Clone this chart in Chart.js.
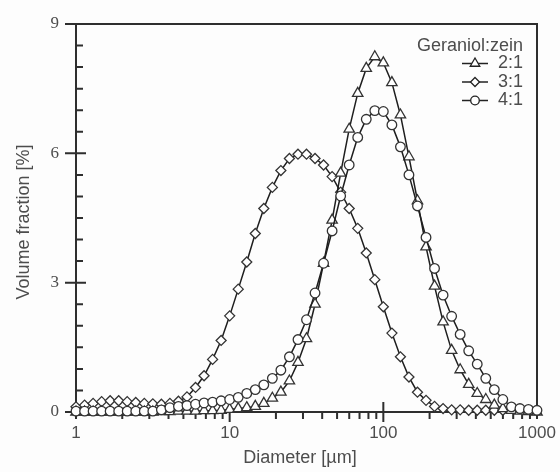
<!DOCTYPE html>
<html lang="en">
<head>
    <meta charset="UTF-8">
    <title>Particle size distribution</title>
    <style>
        body {
            margin: 0;
            background: #fdfdfd;
        }
        #wrap {
            width: 560px;
            height: 472px;
        }
    </style>
</head>
<body>
    <div id="wrap"><canvas id="psd" width="560" height="472"></canvas></div>

    <script src="https://cdn.jsdelivr.net/npm/chart.js@4"></script>
    <script>
        // size classes (µm)
        const diameters = [1.000, 1.137, 1.292, 1.468, 1.668, 1.896, 2.154, 2.448, 2.783, 3.162,
            3.594, 4.084, 4.642, 5.275, 5.995, 6.813, 7.743, 8.799, 10.00, 11.37,
            12.92, 14.68, 16.68, 18.96, 21.54, 24.48, 27.83, 31.62, 35.94, 40.84,
            46.42, 52.75, 59.95, 68.13, 77.43, 87.99, 100.0, 113.7, 129.2, 146.8,
            166.8, 189.6, 215.4, 244.8, 278.3, 316.2, 359.4, 408.4, 464.2, 527.5,
            599.5, 681.3, 774.3, 879.9, 1000];

        // volume fraction [%] per geraniol:zein ratio
        const ratio21 = [0, 0, 0, 0, 0, 0, 0, 0, 0, 0,
            0.01, 0.01, 0.02, 0.02, 0.02, 0.03, 0.03, 0.04, 0.06, 0.08,
            0.10, 0.13, 0.20, 0.32, 0.46, 0.72, 1.15, 1.70, 2.50, 3.45,
            4.45, 5.54, 6.56, 7.39, 7.97, 8.24, 8.10, 7.64, 6.89, 5.92,
            4.90, 3.83, 2.92, 2.09, 1.43, 0.98, 0.64, 0.43, 0.29, 0.16,
            0.08, 0.04, 0.02, 0.01, 0];
        const ratio31 = [0.12, 0.16, 0.20, 0.24, 0.26, 0.26, 0.24, 0.22, 0.20, 0.19,
            0.18, 0.20, 0.25, 0.35, 0.57, 0.84, 1.22, 1.66, 2.23, 2.85,
            3.48, 4.14, 4.72, 5.21, 5.60, 5.88, 5.98, 5.98, 5.88, 5.73,
            5.46, 5.10, 4.72, 4.26, 3.69, 3.07, 2.44, 1.83, 1.28, 0.81,
            0.46, 0.27, 0.13, 0.08, 0.05, 0.05, 0.04, 0.04, 0.04, 0.04,
            0.04, null, null, null, null];
        const ratio41 = [0.02, 0.02, 0.02, 0.02, 0.02, 0.02, 0.02, 0.02, 0.02, 0.02,
            0.05, 0.10, 0.13, 0.15, 0.18, 0.21, 0.23, 0.26, 0.29, 0.34,
            0.43, 0.52, 0.63, 0.78, 0.97, 1.28, 1.68, 2.14, 2.76, 3.45,
            4.20, 5.01, 5.73, 6.37, 6.79, 6.99, 6.97, 6.66, 6.15, 5.50,
            4.78, 4.05, 3.33, 2.71, 2.22, 1.80, 1.42, 1.11, 0.78, 0.52,
            0.29, 0.12, 0.08, 0.06, 0.04];

        const seriesLabels = ['2:1', '3:1', '4:1'];
        const legendTitle = 'Geraniol:zein';
        const xTicks = [1, 10, 100, 1000];
        const yTicks = [0, 3, 6, 9];
        const xTitle = 'Diameter [µm]';
        const yTitle = 'Volume fraction [%]';

        const ink = '#2e2e2e';
        const textGray = '#4d4d4d';
        const sans = '"Liberation Sans", Arial, sans-serif';
        const serif = '"Liberation Serif", "Times New Roman", serif';

        const series = [
            { label: seriesLabels[0], values: ratio21, style: 'triangle', radius: 6, order: 2 },
            { label: seriesLabels[1], values: ratio31, style: 'rectRot', radius: 5, order: 3 },
            { label: seriesLabels[2], values: ratio41, style: 'circle', radius: 4.8, order: 1 }
        ];

        function toPoints(values) {
            return values.map((v, i) => ({ x: diameters[i], y: v }));
        }

        // small marker for the hand drawn legend
        function marker(ctx, style, x, y, r) {
            ctx.beginPath();
            if (style === 'circle') {
                ctx.arc(x, y, r, 0, Math.PI * 2);
            } else if (style === 'rectRot') {
                ctx.moveTo(x, y - r);
                ctx.lineTo(x + r, y);
                ctx.lineTo(x, y + r);
                ctx.lineTo(x - r, y);
                ctx.closePath();
            } else {
                ctx.moveTo(x, y - r);
                ctx.lineTo(x + r * 0.866, y + r / 2);
                ctx.lineTo(x - r * 0.866, y + r / 2);
                ctx.closePath();
            }
            ctx.fillStyle = '#ffffff';
            ctx.fill();
            ctx.stroke();
        }

        const axisDecor = {
            id: 'axisDecor',
            beforeDatasetsDraw(chart) {
                const { ctx, chartArea: a, scales: { x, y } } = chart;
                ctx.save();
                ctx.strokeStyle = ink;
                ctx.lineWidth = 2;
                ctx.strokeRect(a.left, a.top, a.right - a.left, a.bottom - a.top);

                // y: majors cross the axis, minors point inward
                ctx.beginPath();
                for (let v = 0; v <= 9; v += 0.5) {
                    const py = y.getPixelForValue(v);
                    const major = yTicks.includes(v);
                    ctx.moveTo(major ? a.left - 11 : a.left, py);
                    ctx.lineTo(a.left + (major ? 10 : 7), py);
                }
                ctx.stroke();

                // x: decade ticks cross the axis, minors point outward
                ctx.beginPath();
                for (let d = 1; d < 1000; d *= 10) {
                    for (let m = 1; m <= 9; m++) {
                        const px = x.getPixelForValue(d * m);
                        if (m === 1 && d > 1) {
                            ctx.moveTo(px, a.bottom - 10);
                            ctx.lineTo(px, a.bottom + 10);
                        } else {
                            ctx.moveTo(px, a.bottom);
                            ctx.lineTo(px, a.bottom + 7);
                        }
                    }
                }
                ctx.moveTo(a.right, a.bottom);
                ctx.lineTo(a.right, a.bottom + 7);
                ctx.stroke();

                // tick labels
                ctx.fillStyle = textGray;
                ctx.textBaseline = 'middle';
                ctx.font = '17px ' + serif;
                ctx.textAlign = 'right';
                yTicks.forEach(v => ctx.fillText(String(v), a.left - 17, y.getPixelForValue(v)));
                ctx.font = '17px ' + sans;
                ctx.textAlign = 'center';
                xTicks.forEach(v => ctx.fillText(String(v), x.getPixelForValue(v), a.bottom + 21));

                // axis titles
                ctx.font = '18px ' + sans;
                ctx.fillText(xTitle, 300, 458);
                ctx.save();
                ctx.translate(24, 222);
                ctx.rotate(-Math.PI / 2);
                ctx.fillText(yTitle, 0, 0);
                ctx.restore();

                // legend
                ctx.textAlign = 'right';
                ctx.fillText(legendTitle, 523, 46);
                const rows = [63.5, 82, 100.5];
                series.forEach((s, i) => {
                    ctx.fillStyle = textGray;
                    ctx.fillText(s.label, 523, rows[i]);
                    ctx.strokeStyle = '#222222';
                    ctx.lineWidth = 1.5;
                    ctx.beginPath();
                    ctx.moveTo(462, rows[i]);
                    ctx.lineTo(488, rows[i]);
                    ctx.stroke();
                    ctx.lineWidth = 1.3;
                    marker(ctx, s.style, 475, rows[i], s.radius - 0.5);
                });
                ctx.restore();
            }
        };

        const ctx = document.getElementById('psd').getContext('2d');
        const chart = new Chart(ctx, {
            type: 'line',
            data: {
                datasets: series.map(s => ({
                    label: s.label,
                    data: toPoints(s.values),
                    order: s.order,
                    borderColor: '#1e1e1e',
                    borderWidth: 1.5,
                    tension: 0,
                    clip: false,
                    pointStyle: s.style,
                    pointRadius: s.radius,
                    pointBackgroundColor: '#ffffff',
                    pointBorderColor: '#333333',
                    pointBorderWidth: 1.3
                }))
            },
            options: {
                responsive: false,
                animation: false,
                events: [],
                layout: { padding: { top: 24, right: 23, left: 0, bottom: 0 } },
                plugins: {
                    legend: { display: false },
                    tooltip: { enabled: false }
                },
                scales: {
                    x: {
                        type: 'logarithmic',
                        min: 1,
                        max: 1000,
                        grid: { display: false },
                        border: { display: false },
                        ticks: { display: false },
                        afterFit: s => { s.height = 60; }
                    },
                    y: {
                        min: 0,
                        max: 9,
                        grid: { display: false },
                        border: { display: false },
                        ticks: { display: false },
                        afterFit: s => { s.width = 76; }
                    }
                }
            },
            plugins: [axisDecor]
        });
    </script>
</body>
</html>
